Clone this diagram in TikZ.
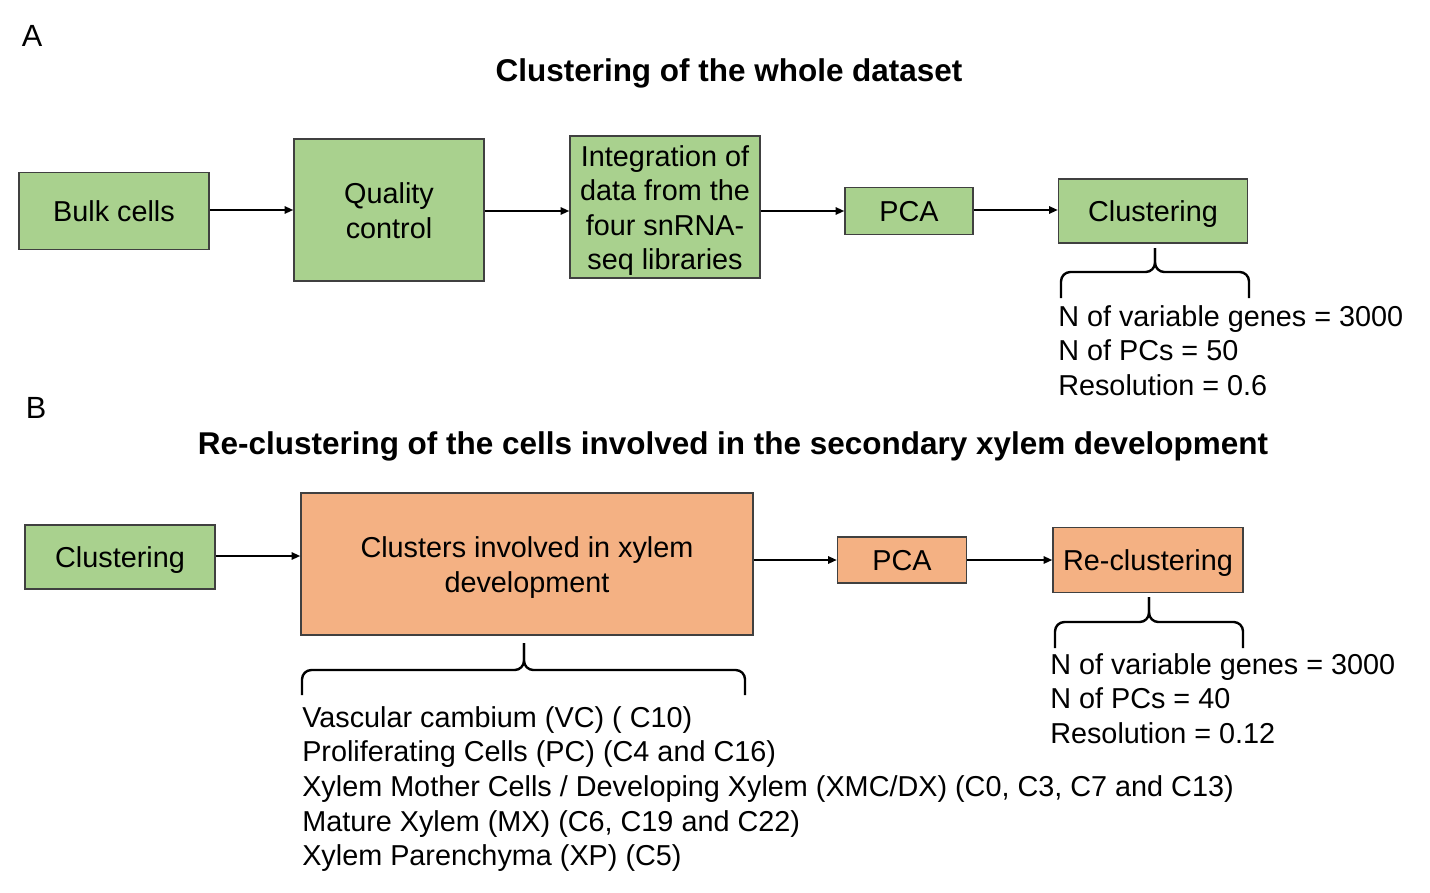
\documentclass[tikz,border=0pt]{standalone}
\usepackage{fontspec}
\setmainfont{Liberation Sans}
\usetikzlibrary{arrows.meta}
\definecolor{boxgreen}{HTML}{A9D18E}
\definecolor{boxorange}{HTML}{F4B183}
\definecolor{boxline}{HTML}{404040}
\newcommand{\boxtext}[1]{\raisebox{-3pt}[\height][\depth]{\begin{tabular}{@{}c@{}}#1\end{tabular}}}
\begin{document}
\begin{tikzpicture}[x=0.75pt,y=-0.75pt,
  body/.style={font=\fontsize{21.6}{25.8}\selectfont},
  stepbox/.style={draw=boxline,line width=1.1pt,inner sep=0pt,body},
  greenbox/.style={stepbox,fill=boxgreen},
  orangebox/.style={stepbox,fill=boxorange},
  arr/.style={-{Triangle[length=6.5pt,width=5.5pt]},line width=1.4pt,black},
  bracepath/.style={line width=1.8pt,rounded corners=7pt,black},
  titlefont/.style={font=\fontsize{23.6}{28}\selectfont\bfseries},
  paneltag/.style={font=\fontsize{23}{27}\selectfont},
  paramtext/.style={font=\fontsize{21.6}{26}\selectfont,align=left,anchor=north west,inner sep=0pt}]
\useasboundingbox (0,0) rectangle (1430,892);

% ---------- Panel A ----------
\node[paneltag] (tagA) at (32,36) {A};
\node[titlefont] (titleA) at (729,73) {Clustering of the whole dataset};

\node[greenbox,minimum width=142.5pt,minimum height=57.75pt] (bulk) at (114,211) {\boxtext{Bulk cells}};
\node[greenbox,minimum width=142.5pt,minimum height=106.5pt] (qc) at (389,210) {\boxtext{Quality\\control}};
\node[greenbox,minimum width=142.5pt,minimum height=106.5pt] (integ) at (665,207) {\boxtext{Integration of\\data from the\\four snRNA-\\seq libraries}};
\node[greenbox,minimum width=96pt,minimum height=35.25pt] (pcaA) at (909,211) {\boxtext{PCA}};
\node[greenbox,minimum width=141.75pt,minimum height=48pt] (clA) at (1153,211) {\boxtext{Clustering}};

\draw[arr] (bulk.east |- 0,210) -- (qc.west |- 0,210);
\draw[arr] (qc.east |- 0,211) -- (integ.west |- 0,211);
\draw[arr] (integ.east |- 0,211) -- (pcaA.west |- 0,211);
\draw[arr] (pcaA.east |- 0,210) -- (clA.west |- 0,210);

\coordinate (bAtip) at (1155,248);
\coordinate (bAmid) at (1155,272);
\draw[bracepath] (1061,298) |- (bAmid) -- (bAtip);
\draw[bracepath] (1249,298) |- (bAmid) -- (bAtip);

\node[paramtext] (parA) at (1058,305) {N of variable genes = 3000\\N of PCs = 50\\Resolution = 0.6};

% ---------- Panel B ----------
\node[paneltag] (tagB) at (36,408) {B};
\node[titlefont] (titleB) at (733,446) {Re-clustering of the cells involved in the secondary xylem development};

\node[greenbox,minimum width=142.5pt,minimum height=48pt] (clB) at (120,557) {\boxtext{Clustering}};
\node[orangebox,minimum width=339pt,minimum height=106.5pt] (clus) at (527,564) {\boxtext{Clusters involved in xylem\\development}};
\node[orangebox,minimum width=96.75pt,minimum height=34.5pt] (pcaB) at (902,560) {\boxtext{PCA}};
\node[orangebox,minimum width=142.5pt,minimum height=48.75pt] (recl) at (1148,560) {\boxtext{Re-clustering}};

\draw[arr] (clB.east |- 0,556) -- (clus.west |- 0,556);
\draw[arr] (clus.east |- 0,560) -- (pcaB.west |- 0,560);
\draw[arr] (pcaB.east |- 0,560) -- (recl.west |- 0,560);

\coordinate (bRtip) at (1149,597);
\coordinate (bRmid) at (1149,622);
\draw[bracepath] (1055,648) |- (bRmid) -- (bRtip);
\draw[bracepath] (1243,648) |- (bRmid) -- (bRtip);

\node[paramtext] (parB) at (1050,653) {N of variable genes = 3000\\N of PCs = 40\\Resolution = 0.12};

\coordinate (bCtip) at (524,643);
\coordinate (bCmid) at (524,670);
\draw[bracepath] (302,695) |- (bCmid) -- (bCtip);
\draw[bracepath] (745,695) |- (bCmid) -- (bCtip);

\node[paramtext] (parC) at (302,706) {Vascular cambium (VC) ( C10)\\Proliferating Cells (PC) (C4 and C16)\\Xylem Mother Cells / Developing Xylem (XMC/DX) (C0, C3, C7 and C13)\\Mature Xylem (MX) (C6, C19 and C22)\\Xylem Parenchyma (XP) (C5)};
\end{tikzpicture}
\end{document}
